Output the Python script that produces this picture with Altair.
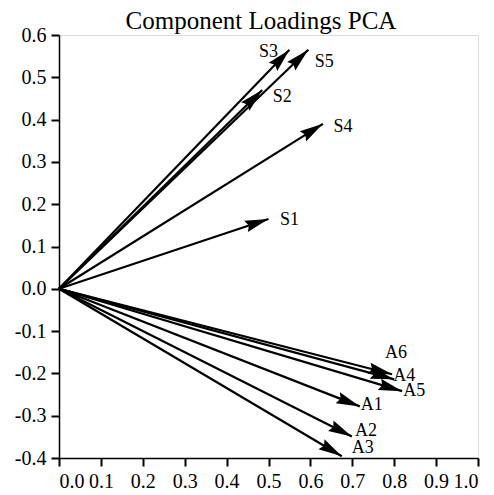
import altair as alt
import pandas as pd

# Component loadings (PC1, PC2) for each variable
names = ["S1", "S2", "S3", "S4", "S5", "A1", "A2", "A3", "A4", "A5", "A6"]
pc1 = [0.50, 0.485, 0.55, 0.63, 0.595, 0.718, 0.699, 0.675, 0.80, 0.819, 0.795]
pc2 = [0.165, 0.47, 0.565, 0.39, 0.565, -0.278, -0.349, -0.396, -0.214, -0.242, -0.202]

# Label placement around each arrow tip (pixels)
label_dx = {"S1": 21, "S2": 20, "S3": -21, "S4": 20, "S5": 16,
            "A1": 12, "A2": 14, "A3": 21, "A4": 10, "A5": 12, "A6": 4}
label_dy = {"S1": 1, "S2": 7, "S3": 2, "S4": 3, "S5": 12,
            "A1": -1, "A2": -5, "A3": -8, "A4": -3, "A5": 0, "A6": -21}

W, H = 419, 423
FONT = "Liberation Serif"

df = pd.DataFrame({"name": names, "x": pc1, "y": pc2})
df["x0"] = 0.0
df["y0"] = 0.0

xscale = alt.Scale(domain=[0, 1], nice=False, zero=False)
yscale = alt.Scale(domain=[-0.4, 0.6], nice=False, zero=False)
lab = "replace(format(datum.value, '.1f'), '\u2212', '-')"

xaxis = alt.Axis(values=[i / 10 for i in range(11)], labelExpr=lab, grid=False,
                 title=None, tickSize=8, tickWidth=2, labelPadding=5,
                 labelFont=FONT, labelFontSize=20, labelColor="black",
                 domainColor="black", domainWidth=1.5, tickColor="black")
yaxis = alt.Axis(values=[i / 10 for i in range(-4, 7)], labelExpr=lab, grid=False,
                 title=None, tickSize=8, tickWidth=2, labelPadding=5,
                 labelFont=FONT, labelFontSize=20, labelColor="black",
                 domainColor="black", domainWidth=1.5, tickColor="black")

base = alt.Chart(df)

shafts = base.mark_rule(color="black", strokeWidth=2.2).encode(
    x=alt.X("x0:Q", scale=xscale, axis=xaxis),
    y=alt.Y("y0:Q", scale=yscale, axis=yaxis),
    x2="x:Q",
    y2="y:Q",
)

# Arrowheads: tip at the path origin, rotated toward the loading direction
head_path = "M0,0L-0.5,2L0,1.75L0.5,2Z"
heads = base.transform_calculate(
    ang=f"(atan2(datum.x * {W}, datum.y * {H}) * 180 / PI + 360) % 360"
).mark_point(shape=head_path, filled=True, color="black", size=560, opacity=1,
             strokeWidth=0).encode(
    x=alt.X("x:Q", scale=xscale),
    y=alt.Y("y:Q", scale=yscale),
    angle=alt.Angle("ang:Q", scale=None),
)

labels = []
for n in names:
    labels.append(
        base.transform_filter(alt.datum.name == n).mark_text(
            font=FONT, fontSize=18, color="black", align="center",
            baseline="middle", dx=label_dx[n], dy=label_dy[n]
        ).encode(
            x=alt.X("x:Q", scale=xscale),
            y=alt.Y("y:Q", scale=yscale),
            text="name:N",
        )
    )

# Chart heading, set just above the frame
heading = alt.Chart(pd.DataFrame({"t": ["Component Loadings PCA"]})).mark_text(
    font=FONT, fontSize=25, color="black", align="center", baseline="alphabetic"
).encode(x=alt.value(202), y=alt.value(-6), text="t:N")

chart = alt.layer(shafts, heads, *labels, heading).properties(
    width=W,
    height=H,
    autosize=alt.AutoSizeParams(type="none"),
    padding={"left": 59, "top": 35, "right": 16, "bottom": 37},
).configure_view(stroke="black", strokeWidth=1.5).configure(background="white")

chart.save("out.html", embed_options={"renderer": "svg", "actions": False})
